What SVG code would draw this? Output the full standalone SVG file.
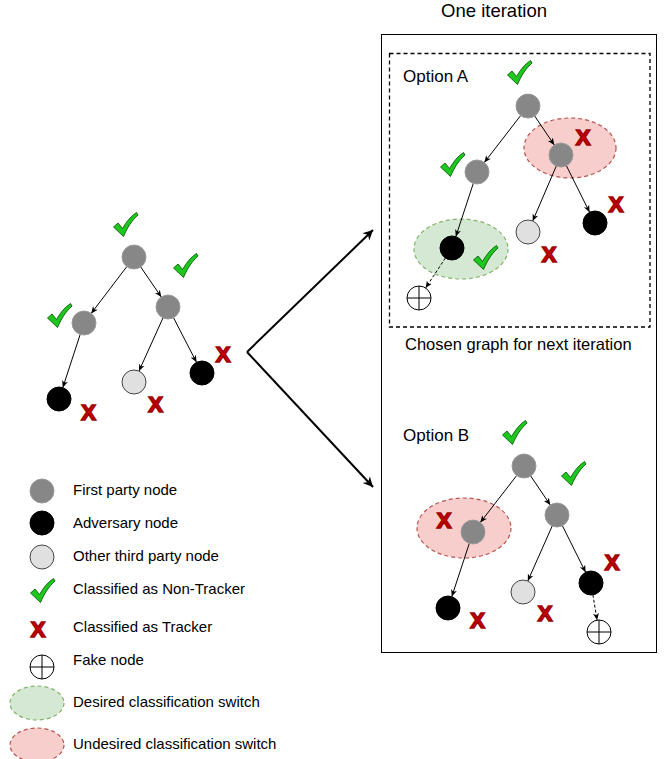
<svg xmlns="http://www.w3.org/2000/svg" xmlns:xlink="http://www.w3.org/1999/xlink" width="665" height="759" viewBox="0 0 665 759">
<style>
text{font-family:"Liberation Sans",Arial,sans-serif;fill:#000}
.lbl{font-size:17px}
.leg{font-size:15px}
.x{font-size:22px;font-weight:bold;fill:#d40000;stroke:#a00000;stroke-width:1.6;stroke-linejoin:miter;text-anchor:middle}
.fp{fill:#878787;stroke:#9a9a9a;stroke-width:1}
.adv{fill:#000;stroke:#000;stroke-width:1}
.tp{fill:#e0e0e0;stroke:#444;stroke-width:1}
.fake{fill:#fff;stroke:#000;stroke-width:1}
.edge{stroke:#000;stroke-width:1;fill:none;marker-end:url(#arr)}
.dedge{stroke:#000;stroke-width:1;fill:none;stroke-dasharray:3 2;marker-end:url(#arr)}
.big{stroke:#000;stroke-width:2;fill:none;marker-end:url(#bigarr)}
.red{fill:#f8cecc;stroke:#b85450;stroke-width:1.2;stroke-dasharray:4 3}
.green{fill:#d5e8d4;stroke:#82b366;stroke-width:1.2;stroke-dasharray:4 3}
</style>
<defs>
<marker id="arr" markerWidth="8" markerHeight="8" refX="7" refY="4" orient="auto" markerUnits="userSpaceOnUse">
<path d="M0,1 L7,4 L0,7 L2,4 Z" fill="#000"/>
</marker>
<marker id="bigarr" markerWidth="12" markerHeight="12" refX="10" refY="6" orient="auto" markerUnits="userSpaceOnUse">
<path d="M0,1 L10,6 L0,11 L3,6 Z" fill="#000"/>
</marker>
<path id="chk" d="M0.5,15 L5,11 L9.5,16.5 C13.5,9.5 18,4 23.5,0.5 L25,3 C19,8.5 14.5,15 10.5,24.5 Z" fill="#1ec71e" stroke="#0a5d0a" stroke-width="0.9" stroke-linejoin="round"/>
<g id="fakesym"><circle r="12" class="fake"/><path d="M-12,0 H12 M0,-12 V12" stroke="#000" stroke-width="1"/></g>
</defs>

<text x="494" y="17" text-anchor="middle" style="font-size:18.5px">One iteration</text>
<rect x="381.5" y="34.5" width="275" height="618" fill="none" stroke="#000" stroke-width="1"/>
<rect x="389.5" y="53.5" width="260.5" height="273.5" fill="none" stroke="#000" stroke-width="1.3" stroke-dasharray="4 3"/>
<text x="403" y="82" class="lbl">Option A</text>
<text x="405" y="350" style="font-size:16.5px">Chosen graph for next iteration</text>
<text x="403" y="441" class="lbl">Option B</text>

<!-- highlight ellipses -->
<ellipse id="redA" cx="570" cy="148" rx="46" ry="30" class="red"/>
<ellipse id="greenA" cx="461" cy="249" rx="47" ry="30" class="green"/>
<ellipse id="redB" cx="464" cy="528" rx="47" ry="30" class="red"/>

<g id="connectors">
<path class="edge" d="M126.8,266.6 L91.2,313.4"/>
<path class="edge" d="M140.7,266.9 L161.3,297.1"/>
<path class="edge" d="M80.2,334.4 L62.8,387.6"/>
<path class="edge" d="M163,317.9 L139,371"/>
<path class="edge" d="M173.5,317.7 L196.5,362.3"/>
<path class="big" d="M247,352 L373,230"/>
<path class="big" d="M247,352 L373,487"/>
<path class="edge" d="M520.7,115.5 L484.3,162.5"/>
<path class="edge" d="M534.7,116 L554.3,145"/>
<path class="edge" d="M473.3,183.4 L455.8,236.6"/>
<path class="edge" d="M556.3,166 L532.7,221"/>
<path class="edge" d="M566.4,165.7 L589.6,212.3"/>
<path class="dedge" d="M445.4,258 L425.6,288"/>
<path class="edge" d="M516.7,475.5 L480.3,522.5"/>
<path class="edge" d="M530.7,476 L550.3,505"/>
<path class="edge" d="M469.3,543.4 L451.8,596.6"/>
<path class="edge" d="M552.2,526 L527.8,581"/>
<path class="edge" d="M562.4,525.7 L585.6,572.3"/>
<path class="dedge" d="M592.9,594.8 L597.1,620.2"/>
</g>

<!-- left tree -->
<g id="L-root"><circle cx="134" cy="257" r="12" class="fp"/></g>
<g id="L-left"><circle cx="84" cy="323" r="12" class="fp"/></g>
<g id="L-right"><circle cx="168" cy="307" r="12" class="fp"/></g>
<g id="L-adv1"><circle cx="59" cy="399" r="12" class="adv"/></g>
<g id="L-tp"><circle cx="134" cy="382" r="12" class="tp"/></g>
<g id="L-adv2"><circle cx="202" cy="373" r="12" class="adv"/></g>

<!-- option A -->
<g id="A-root"><circle cx="528" cy="106" r="12" class="fp"/></g>
<g id="A-right"><circle cx="561" cy="155" r="12" class="fp"/></g>
<g id="A-left"><circle cx="477" cy="172" r="12" class="fp"/></g>
<g id="A-adv1"><circle cx="452" cy="248" r="12" class="adv"/></g>
<g id="A-tp"><circle cx="528" cy="232" r="12" class="tp"/></g>
<g id="A-adv2"><circle cx="595" cy="223" r="12" class="adv"/></g>
<g id="A-fake"><use xlink:href="#fakesym" href="#fakesym" x="419" y="298"/></g>

<!-- option B -->
<g id="B-root"><circle cx="524" cy="466" r="12" class="fp"/></g>
<g id="B-right"><circle cx="557" cy="515" r="12" class="fp"/></g>
<g id="B-left"><circle cx="473" cy="532" r="12" class="fp"/></g>
<g id="B-adv1"><circle cx="448" cy="608" r="12" class="adv"/></g>
<g id="B-tp"><circle cx="523" cy="592" r="12" class="tp"/></g>
<g id="B-adv2"><circle cx="591" cy="583" r="12" class="adv"/></g>
<g id="B-fake"><use xlink:href="#fakesym" href="#fakesym" x="599" y="632"/></g>

<!-- checks -->
<g id="checks">
<use href="#chk" xlink:href="#chk" x="113" y="212"/>
<use href="#chk" xlink:href="#chk" x="173" y="253"/>
<use href="#chk" xlink:href="#chk" x="47" y="303"/>
<use href="#chk" xlink:href="#chk" x="507" y="60"/>
<use href="#chk" xlink:href="#chk" x="440" y="152"/>
<use href="#chk" xlink:href="#chk" x="473" y="245"/>
<use href="#chk" xlink:href="#chk" x="502" y="420"/>
<use href="#chk" xlink:href="#chk" x="561" y="461"/>
<use href="#chk" xlink:href="#chk" x="30" y="578"/>
</g>

<!-- crosses -->
<g id="crosses">
<text class="x" x="88.5" y="419.5">X</text>
<text class="x" x="155.5" y="411.5">X</text>
<text class="x" x="223" y="361.5">X</text>
<text class="x" x="583" y="144.5">X</text>
<text class="x" x="616" y="211.5">X</text>
<text class="x" x="549" y="261.5">X</text>
<text class="x" x="444" y="527.5">X</text>
<text class="x" x="477.5" y="627.5">X</text>
<text class="x" x="545" y="620.5">X</text>
<text class="x" x="612" y="569.5">X</text>
<text class="x" x="38" y="636.5">X</text>
</g>

<!-- legend -->
<g id="legend">
<circle cx="42" cy="491" r="12" class="fp"/>
<text x="73" y="495" class="leg">First party node</text>
<circle cx="42" cy="523" r="12" class="adv"/>
<text x="73" y="528" class="leg">Adversary node</text>
<circle cx="42" cy="557" r="12" class="tp"/>
<text x="73" y="561" class="leg">Other third party node</text>
<text x="73" y="594" class="leg">Classified as Non-Tracker</text>
<text x="73" y="632" class="leg">Classified as Tracker</text>
<use href="#fakesym" xlink:href="#fakesym" x="42" y="667"/>
<text x="73" y="665" class="leg">Fake node</text>
<ellipse cx="37" cy="703" rx="27" ry="17" class="green"/>
<text x="73" y="707" class="leg">Desired classification switch</text>
<ellipse cx="37" cy="745" rx="27" ry="17" class="red"/>
<text x="73" y="749" class="leg">Undesired classification switch</text>
</g>
</svg>
